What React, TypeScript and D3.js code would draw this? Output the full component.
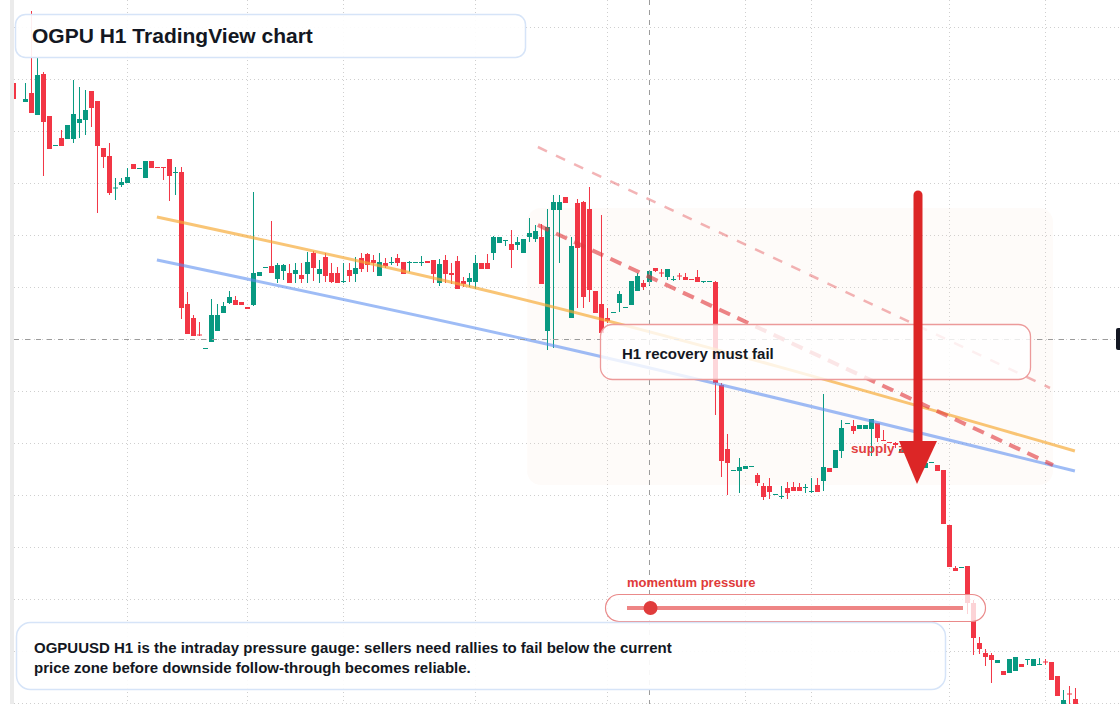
import React from 'react';
import * as d3 from 'd3';

const W = 1120;
const H = 704;

// H1 bars as [open, high, low, close]; null = no print for that hour
const bars: ([number, number, number, number] | null)[] = [
  [9.17, 9.17, 9.01, 9.01], null, [8.98, 9.17, 8.98, 9.01], [9.07, 9.89, 8.87, 8.87],
  [8.85, 9.42, 8.85, 9.25], [9.26, 9.28, 8.24, 8.78], [8.84, 8.84, 8.51, 8.51], [8.55, 8.55, 8.54, 8.55],
  [8.62, 8.70, 8.54, 8.54], [8.61, 8.75, 8.61, 8.75], [8.61, 9.20, 8.57, 8.86], [8.77, 9.13, 8.62, 8.81],
  [8.80, 9.10, 8.65, 8.90], [9.09, 9.09, 8.73, 8.92], [8.99, 8.99, 7.87, 8.54], [8.52, 8.52, 8.32, 8.43],
  [8.44, 8.57, 8.05, 8.07], [8.12, 8.22, 8.00, 8.125], [8.15, 8.22, 8.13, 8.18], [8.17, 8.32, 8.17, 8.23],
  [8.36, 8.36, 8.31, 8.31], [8.32, 8.32, 8.32, 8.32], [8.22, 8.39, 8.22, 8.39], [8.39, 8.39, 8.32, 8.32],
  [8.33, 8.33, 8.33, 8.325], [8.33, 8.33, 8.20, 8.325], [8.41, 8.41, 7.99, 8.24], [8.27, 8.33, 8.05, 8.28],
  [8.28, 8.33, 6.81, 6.92], [6.96, 7.08, 6.66, 6.66], [6.82, 6.85, 6.64, 6.64], [6.655, 6.78, 6.64, 6.645],
  [6.52, 6.52, 6.52, 6.52], [6.58, 7.01, 6.58, 6.85], [6.69, 6.96, 6.69, 6.85], [6.87, 6.98, 6.87, 6.94],
  [6.97, 7.09, 6.96, 7.03], [7.00, 7.04, 6.95, 6.95], [6.98, 6.98, 6.95, 6.95], [6.93, 6.93, 6.91, 6.91],
  [6.95, 8.08, 6.94, 7.27], [7.24, 7.28, 7.24, 7.28], [7.33, 7.33, 7.33, 7.33], [7.34, 7.79, 7.27, 7.27],
  [7.21, 7.37, 7.17, 7.35], [7.29, 7.36, 7.20, 7.35], [7.27, 7.36, 7.17, 7.17], [7.26, 7.37, 7.17, 7.30],
  [7.25, 7.37, 7.17, 7.21], [7.26, 7.48, 7.17, 7.38], [7.47, 7.49, 7.19, 7.32], [7.26, 7.40, 7.17, 7.31],
  [7.43, 7.47, 7.18, 7.24], [7.27, 7.37, 7.17, 7.18], [7.27, 7.33, 7.17, 7.17], [7.19, 7.37, 7.17, 7.19],
  [7.30, 7.37, 7.18, 7.24], [7.26, 7.43, 7.18, 7.32], [7.42, 7.47, 7.28, 7.31], [7.46, 7.47, 7.28, 7.35],
  [7.40, 7.45, 7.28, 7.37], [7.24, 7.47, 7.24, 7.38], [7.37, 7.42, 7.32, 7.34], [7.38, 7.43, 7.35, 7.38],
  [7.42, 7.46, 7.34, 7.37], [7.38, 7.38, 7.26, 7.26], [7.38, 7.39, 7.28, 7.38], [7.38, 7.38, 7.38, 7.38],
  [7.38, 7.44, 7.34, 7.38], [7.39, 7.39, 7.37, 7.37], [7.40, 7.40, 7.17, 7.26], [7.17, 7.41, 7.14, 7.36],
  [7.40, 7.45, 7.17, 7.26], [7.27, 7.37, 7.16, 7.25], [7.39, 7.44, 7.11, 7.11], [7.19, 7.23, 7.13, 7.16],
  [7.18, 7.27, 7.13, 7.22], [7.18, 7.45, 7.11, 7.37], [7.37, 7.37, 7.31, 7.31], [7.37, 7.46, 7.31, 7.31],
  [7.47, 7.64, 7.40, 7.63], [7.57, 7.63, 7.57, 7.63], [7.60, 7.60, 7.54, 7.60], [7.56, 7.70, 7.32, 7.50],
  [7.55, 7.63, 7.50, 7.58], [7.47, 7.61, 7.47, 7.61], [7.63, 7.82, 7.58, 7.67], [7.61, 7.75, 7.58, 7.69],
  [7.63, 7.76, 7.16, 7.16], [6.69, 7.91, 6.50, 7.73], [7.90, 8.05, 6.52, 7.98], [7.90, 8.05, 7.37, 7.98],
  [8.03, 8.03, 7.97, 7.97], [6.82, 7.63, 6.82, 7.54], [7.97, 8.01, 6.92, 7.52], [7.98, 7.99, 6.92, 7.03],
  [7.91, 8.13, 6.98, 7.10], [7.09, 7.09, 6.87, 6.87], [6.96, 7.85, 6.67, 6.67], [6.82, 6.92, 6.77, 6.79],
  [6.88, 6.88, 6.88, 6.88], [6.97, 7.09, 6.88, 7.06], [6.93, 6.93, 6.93, 6.93], [6.95, 7.19, 6.95, 7.19],
  [7.09, 7.27, 7.09, 7.24], [7.17, 7.20, 7.10, 7.13], [7.18, 7.29, 7.14, 7.29], [7.32, 7.32, 7.28, 7.29],
  [7.275, 7.31, 7.23, 7.265], [7.23, 7.31, 7.20, 7.31], [7.21, 7.24, 7.19, 7.21], [7.245, 7.27, 7.20, 7.235],
  [7.23, 7.27, 7.20, 7.20], [7.21, 7.21, 7.20, 7.20], [7.23, 7.30, 7.18, 7.18], [7.19, 7.19, 7.17, 7.19],
  [7.19, 7.19, 7.19, 7.19], [7.18, 7.19, 5.85, 6.17], [6.15, 6.17, 5.23, 5.39], [5.51, 5.66, 5.05, 5.37],
  [5.30, 5.30, 5.30, 5.30], [5.29, 5.42, 5.07, 5.33], [5.31, 5.34, 5.31, 5.34], [5.34, 5.34, 5.34, 5.34],
  [5.25, 5.27, 5.14, 5.17], [5.14, 5.17, 5.00, 5.03], [5.14, 5.22, 5.01, 5.08], [5.06, 5.06, 5.06, 5.06],
  [5.04, 5.14, 5.01, 5.04], [5.12, 5.18, 5.01, 5.07], [5.13, 5.18, 5.09, 5.09], [5.13, 5.17, 5.09, 5.09],
  [5.13, 5.16, 5.07, 5.13], [5.09, 5.22, 5.07, 5.09], [5.15, 5.22, 5.08, 5.08], [5.19, 6.06, 5.09, 5.33],
  [5.32, 5.32, 5.28, 5.28], [5.32, 5.50, 5.32, 5.50], [5.49, 5.80, 5.42, 5.72], [5.77, 5.77, 5.77, 5.77],
  [5.74, 5.80, 5.66, 5.69], [5.71, 5.75, 5.71, 5.75], [5.71, 5.75, 5.71, 5.75], [5.71, 5.81, 5.44, 5.81],
  [5.77, 5.77, 5.58, 5.62], [5.60, 5.70, 5.59, 5.59], [5.58, 5.58, 5.57, 5.57], [5.57, 5.58, 5.52, 5.55],
  [5.47, 5.51, 5.47, 5.51], [5.47, 5.53, 5.45, 5.50], [5.50, 5.52, 5.40, 5.42], [5.42, 5.44, 5.36, 5.38],
  [5.32, 5.37, 5.32, 5.37], [5.38, 5.38, 5.38, 5.38], [5.35, 5.35, 5.29, 5.29], [5.30, 5.30, 4.76, 4.76],
  [4.75, 4.75, 4.33, 4.33], [4.32, 4.34, 4.29, 4.29], [4.33, 4.33, 4.33, 4.33], [4.34, 4.34, 3.86, 3.97],
  [3.97, 4.00, 3.45, 3.62], [3.57, 3.63, 3.46, 3.51], [3.47, 3.51, 3.34, 3.43], [3.45, 3.47, 3.17, 3.40],
  [3.37, 3.40, 3.37, 3.40], [3.29, 3.29, 3.25, 3.25], [3.27, 3.41, 3.27, 3.41], [3.29, 3.43, 3.29, 3.43],
  [3.36, 3.36, 3.33, 3.33], [3.41, 3.41, 3.35, 3.41], [3.34, 3.41, 3.34, 3.41], [3.36, 3.42, 3.36, 3.36],
  [3.385, 3.41, 3.35, 3.375], [3.38, 3.38, 3.20, 3.20], [3.24, 3.24, 3.04, 3.04], [2.92, 3.10, 2.92, 3.00],
  [3.065, 3.14, 2.94, 3.055], [3.01, 3.12, 2.88, 2.90],
];

// session / day boundaries (bar index) and price grid levels
const timeGrid = [19, 39, 55, 77, 99, 122, 133, 156, 172];
const priceGrid = [9.73, 9.21, 8.69, 8.17, 7.65, 7.13, 6.61, 6.09, 5.57, 5.05, 4.53, 4.01, 3.49, 2.97];

// drawings: [bar index, price]
const orangeTrend: [number, number][] = [[23.9, 7.83], [77.75, 7.11], [176.9, 5.49]];
const blueTrend: [number, number][] = [[23.9, 7.40], [84.4, 6.62], [176.9, 5.29]];
const redChannel: [number, number][] = [[87.4, 7.75], [173.25, 5.35]];
const redChannelUpper: [number, number][] = [[87.4, 8.53], [172.75, 6.12]];
const zone = {i0: 85.6, i1: 173.25, top: 7.92, bottom: 5.15};
const arrow = {i: 150.75, from: 8.05, head: 5.59, tip: 5.16};
const cursor = {i: 106, price: 6.61};
const momentum = 0.07;

const up = '#089981';
const down = '#f23645';
const font = '"Liberation Sans", Arial, Helvetica, sans-serif';

export default function App() {
  const x = d3.scaleLinear().domain([-2.25, 184.4167]).range([0, W]);
  const y = d3.scaleLinear().domain([10, 2.96]).range([0, H]);
  const trend = d3.line<[number, number]>().x(d => x(d[0])).y(d => y(d[1])).curve(d3.curveMonotoneX);
  const gauge = d3.scaleLinear().domain([0, 1]).range([627, 963]);

  const ax = x(arrow.i);

  return (
    <svg width={W} height={H} style={{position: 'absolute', left: 0, top: 0, background: '#fff'}}
      fontFamily={font}>
      <defs>
        <clipPath id="pane"><rect x={14} y={0} width={W - 14} height={H} /></clipPath>
      </defs>
      <rect x={10} y={0} width={4} height={H} fill="#ebebeb" />

      <g clipPath="url(#pane)">
        {priceGrid.map(p => (
          <line key={'h' + p} x1={14} x2={W} y1={Math.round(y(p)) + 0.5} y2={Math.round(y(p)) + 0.5}
            stroke="#cfcfcf" strokeDasharray="1 3" />
        ))}
        {timeGrid.map(i => (
          <line key={'v' + i} x1={x(i)} x2={x(i)} y1={0} y2={H} stroke="#cfcfcf" strokeDasharray="1 3" />
        ))}

        <rect x={x(zone.i0)} y={y(zone.top)} width={x(zone.i1) - x(zone.i0)} height={y(zone.bottom) - y(zone.top)}
          rx={14} fill="#f6dfd0" fillOpacity={0.12} />

        {bars.map((b, i) => {
          if (!b) return null;
          const [o, h, l, c] = b;
          const col = c >= o ? up : down;
          const cx = x(i);
          const top = y(Math.max(o, c));
          const bh = Math.max(1, y(Math.min(o, c)) - top);
          return (
            <g key={i}>
              <line x1={cx} x2={cx} y1={y(h)} y2={y(l)} stroke={col} strokeWidth={1} />
              <rect x={cx - 2.5} y={top} width={5} height={bh} fill={col} />
            </g>
          );
        })}

        <path d={trend(orangeTrend)!} fill="none" stroke="#f6a935" strokeOpacity={0.68} strokeWidth={3} />
        <path d={trend(blueTrend)!} fill="none" stroke="#5d8ff0" strokeOpacity={0.6} strokeWidth={3} />
        <path d={trend(redChannel)!} fill="none" stroke="#e0393e" strokeOpacity={0.62} strokeWidth={4}
          strokeDasharray="12 8" />
        <path d={trend(redChannelUpper)!} fill="none" stroke="#e0393e" strokeOpacity={0.38} strokeWidth={2.5}
          strokeDasharray="10 10" />

        <line x1={x(cursor.i)} x2={x(cursor.i)} y1={0} y2={H} stroke="#9b9b9b" strokeDasharray="5 5" />
        <line x1={14} x2={1115} y1={Math.round(y(cursor.price)) + 0.5} y2={Math.round(y(cursor.price)) + 0.5}
          stroke="#9b9b9b" strokeDasharray="5 6" />
      </g>
      <rect x={1116} y={y(cursor.price) - 11} width={14} height={22} rx={2} fill="#131722" />

      {/* title */}
      <rect x={15.5} y={14.5} width={510} height={43} rx={10} fill="#fff" fillOpacity={0.92}
        stroke="#d6e4f8" strokeWidth={1.5} />
      <text x={32} y={43} fontSize={21} fontWeight="bold" fill="#131722">OGPU H1 TradingView chart</text>

      {/* recovery note */}
      <rect x={600.5} y={324.5} width={430} height={55} rx={12} fill="#fff" fillOpacity={0.8}
        stroke="#ec9a9a" strokeWidth={1.3} />
      <text x={622} y={359} fontSize={15} fontWeight="bold" fill="#131722">H1 recovery must fail</text>

      <text x={851} y={453} fontSize={13.5} fontWeight="bold" fill="#e2403f">supply zone</text>

      {/* arrow */}
      <line x1={ax} x2={ax} y1={y(arrow.from)} y2={y(arrow.head) + 2} stroke="#dc2626" strokeWidth={9}
        strokeLinecap="round" />
      <path d={`M${ax - 19},${y(arrow.head)} L${ax + 19},${y(arrow.head)} L${ax - 1},${y(arrow.tip)} Z`}
        fill="#dc2626" />

      {/* momentum gauge */}
      <text x={627} y={587} fontSize={13} fontWeight="bold" fill="#e03a3a">momentum pressure</text>
      <rect x={605.5} y={594.5} width={380} height={27} rx={13.5} fill="#fff" fillOpacity={0.78}
        stroke="#ea8a8a" strokeWidth={1.2} />
      <line x1={gauge(0)} x2={gauge(1)} y1={608} y2={608} stroke="#ee8585" strokeWidth={4} />
      <circle cx={gauge(momentum)} cy={608} r={7} fill="#e03c3c" />

      {/* commentary */}
      <rect x={16.5} y={622.5} width={929} height={67} rx={14} fill="#fff" fillOpacity={0.92}
        stroke="#d6e4f8" strokeWidth={1.5} />
      <text x={34} fontSize={15} fontWeight="bold" fill="#131722">
        <tspan x={34} y={653}>OGPUUSD H1 is the intraday pressure gauge: sellers need rallies to fail below the current</tspan>
        <tspan x={34} y={673}>price zone before downside follow-through becomes reliable.</tspan>
      </text>
    </svg>
  );
}
